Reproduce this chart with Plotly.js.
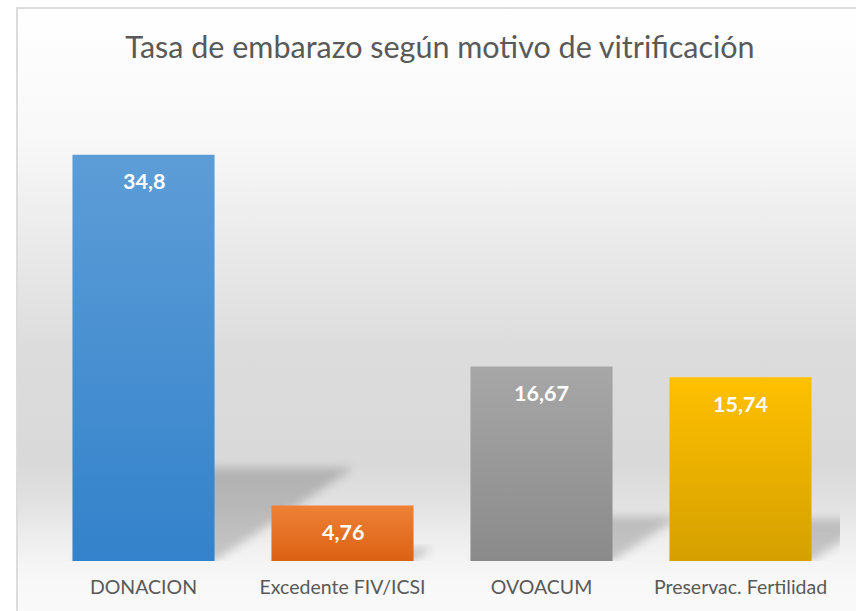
<!DOCTYPE html>
<html>
<head>
<meta charset="utf-8">
<script src="https://cdn.plot.ly/plotly-3.0.1.min.js"></script>
<style>
  html, body { margin: 0; padding: 0; background: #ffffff; }
  #wrap { position: relative; width: 856px; height: 611px; overflow: hidden; background: #ffffff; }
  #bg {
    position: absolute; left: 16px; top: 7px; width: 900px; height: 700px;
    border-left: 2px solid #dcdcdc; border-top: 2px solid #dcdcdc;
    background: linear-gradient(to bottom,
      #ffffff 0px, #f8f8f8 130px, #e8e8e8 250px, #dcdcdc 340px, #d9d9d9 455px,
      #e2e2e2 495px, #ececec 525px, #f4f4f4 552px, #f8f8f8 575px, #fafafa 604px);
  }
  #chart { position: absolute; left: 0; top: 0; width: 856px; height: 611px; }
</style>
</head>
<body>
<div id="wrap">
  <div id="bg"></div>
  <div id="chart"></div>
</div>
<script>
const categories = ["DONACION", "Excedente FIV/ICSI", "OVOACUM", "Preservac. Fertilidad"];
const values = [34.8, 4.76, 16.67, 15.74];
const topColors = ["#5D9DD7", "#EE8136", "#A7A7A7", "#FFC000"];
const bottomColors = ["#3382CB", "#DB6114", "#8A8A8A", "#D5A000"];
const titleText = "Tasa de embarazo según motivo de vitrificación";

const idx = categories.map((c, i) => i);
const halfW = 0.357;

const shapes = values.map((v, i) => {
  const s = v * 0.0201;
  const h = v * 0.229;
  return {
    type: "path", xref: "x", yref: "y", layer: "below",
    path: `M ${i - halfW} 0 L ${i + halfW} 0 L ${i + halfW + s} ${h} L ${i - halfW + s} ${h} Z`,
    fillcolor: "rgba(0,0,0,0.19)", line: { width: 0 }
  };
});

const annotations = values.map((v, i) => ({
  x: i, y: v, xref: "x", yref: "y", yshift: -26.5,
  text: String(v).replace(".", ","), showarrow: false,
  font: { family: "Lato, sans-serif", size: 21.5, color: "#ffffff", weight: "bold" }
}));

const trace = {
  type: "bar", x: idx, y: values,
  marker: { color: topColors, line: { width: 0 } },
  hoverinfo: "none", cliponaxis: true
};

const layout = {
  width: 856, height: 611,
  margin: { l: 44, r: 16, t: 94, b: 50 },
  paper_bgcolor: "rgba(0,0,0,0)", plot_bgcolor: "rgba(0,0,0,0)",
  bargap: 0.286,
  showlegend: false,
  title: {
    text: titleText, xref: "container", yref: "container",
    x: 0.514, xanchor: "center", y: 0.923, yanchor: "middle",
    font: { family: "Lato, sans-serif", size: 30.5, color: "#595959" }
  },
  xaxis: {
    type: "linear", range: [-0.5, 3.5], tickvals: idx, ticktext: categories,
    showgrid: false, zeroline: false, showline: false, ticks: "",
    tickfont: { family: "Lato, sans-serif", size: 19.5, color: "#595959" },
    ticklabelstandoff: 12, fixedrange: true
  },
  yaxis: {
    range: [0, 40], visible: false, showgrid: false, zeroline: false, fixedrange: true
  },
  shapes: shapes,
  annotations: annotations
};

Plotly.newPlot("chart", [trace], layout, { displayModeBar: false, staticPlot: true }).then(gd => {
  const svg = gd.querySelector("svg.main-svg");
  const NS = "http://www.w3.org/2000/svg";
  let defs = svg.querySelector("defs");
  if (!defs) { defs = document.createElementNS(NS, "defs"); svg.insertBefore(defs, svg.firstChild); }
  topColors.forEach((c, i) => {
    const g = document.createElementNS(NS, "linearGradient");
    g.setAttribute("id", "bargrad" + i);
    g.setAttribute("x1", "0"); g.setAttribute("y1", "0");
    g.setAttribute("x2", "0"); g.setAttribute("y2", "1");
    const s1 = document.createElementNS(NS, "stop");
    s1.setAttribute("offset", "0"); s1.setAttribute("stop-color", c);
    const s2 = document.createElementNS(NS, "stop");
    s2.setAttribute("offset", "1"); s2.setAttribute("stop-color", bottomColors[i]);
    g.appendChild(s1); g.appendChild(s2); defs.appendChild(g);
  });
  const f = document.createElementNS(NS, "filter");
  f.setAttribute("id", "shblur");
  f.setAttribute("x", "-30%"); f.setAttribute("y", "-30%");
  f.setAttribute("width", "160%"); f.setAttribute("height", "160%");
  const fb = document.createElementNS(NS, "feGaussianBlur");
  fb.setAttribute("stdDeviation", "5");
  f.appendChild(fb); defs.appendChild(f);

  gd.querySelectorAll(".trace.bars .point path").forEach((p, i) => {
    p.style.fill = "url(#bargrad" + i + ")";
  });
  gd.querySelectorAll(".shapelayer path").forEach(p => {
    p.setAttribute("filter", "url(#shblur)");
    p.style.filter = "url(#shblur)";
  });
});
</script>
</body>
</html>
